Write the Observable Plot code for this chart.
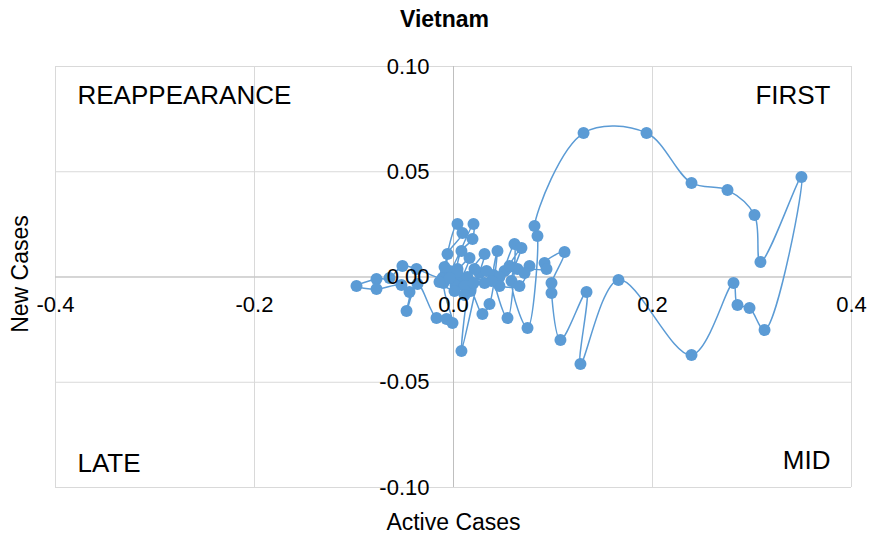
<!DOCTYPE html>
<html><head><meta charset="utf-8">
<script src="https://cdn.jsdelivr.net/npm/d3@7"></script>
<script src="https://cdn.jsdelivr.net/npm/@observablehq/plot@0.6"></script>
<style>body{margin:0;background:#fff;}</style>
</head><body><div id="chart"></div>
<script>
const title = "Vietnam";
const xAxisTitle = "Active Cases";
const yAxisTitle = "New Cases";
const activeCases = [0, -0.007, -0.011, -0.0372, -0.0513, -0.0643, -0.0774, -0.0975, -0.0774, -0.0523,
  -0.0442, -0.0472, -0.0362, -0.0171, -0.007, -0.001, -0.0101, 0.004, 0.009, -0.006,
  -0.004, 0.0201, 0.0191, 0.008, 0.004, 0.0161, 0.008, 0.0312, 0.0261, 0.008,
  0.0171, 0.0291, 0.0362, 0.0442, 0.0402, 0.0543, 0.0613, 0.0513, 0.0683, 0.0583,
  0.0744, 0.0844, 0.0814, 0.1307, 0.194, 0.2392, 0.2754, 0.3025, 0.3085, 0.3497,
  0.3126, 0.2975, 0.2854, 0.2814, 0.2392, 0.1658, 0.1276, 0.1337, 0.1075, 0.0985,
  0.0985, 0.1116, 0.0915, 0.0935, 0.0643, 0.0462, 0.0332, 0.0211, 0.0141, 0.002,
  0.0111, 0.0201, 0.0312, 0.0462, 0.0663, 0.0764, 0.0714, 0.0563, 0.0382, 0.004,
  -0.009, -0.0141, 0.001, 0.0111, -0.004];
const newCases = [0, 0.0024, -0.0005, 0.0038, 0.0052, -0.0005, -0.001, -0.0043, -0.0057, -0.0038,
  -0.0071, -0.0162, -0.0033, -0.0195, -0.02, -0.0219, -0.0029, 0.0252, 0.0209, 0.0109,
  0.0029, 0.0252, 0.0181, 0.0124, 0.0038, 0.009, -0.0019, 0.0109, 0.0019, -0.0352,
  -0.0067, -0.0176, -0.0128, 0.0124, 0.001, -0.0195, 0.0157, 0.0029, 0.0138, -0.0019,
  -0.0242, 0.0195, 0.0242, 0.0684, 0.0684, 0.0447, 0.0413, 0.0295, 0.0071, 0.0475,
  -0.0252, -0.0147, -0.0133, -0.0029, -0.0371, -0.0014, -0.0413, -0.0071, -0.0299, -0.0076,
  -0.0029, 0.0119, 0.0067, 0.0038, 0.0038, 0, 0.0029, 0.0038, 0, -0.0038,
  -0.0043, -0.0029, -0.0029, -0.0043, -0.0043, 0.0052, 0.0019, 0.0052, -0.0019, 0.0024,
  0.0048, -0.0024, -0.0067, -0.0086, -0.0005];
const xTicks = [-0.4, -0.2, 0, 0.2, 0.4];
const xTickLabels = ["-0.4", "-0.2", "0.0", "0.2", "0.4"];
const yTicks = [-0.10, -0.05, 0, 0.05, 0.10];
const yTickLabels = ["-0.10", "-0.05", "0.00", "0.05", "0.10"];
const quadrantLabels = ["REAPPEARANCE", "FIRST", "LATE", "MID"];

const data = activeCases.map((x, i) => ({x, y: newCases[i]}));
const blue = "#5B9BD5";
const grid = "#d9d9d9";

const chart = Plot.plot({
  width: 874, height: 539,
  marginLeft: 55, marginRight: 23, marginTop: 66, marginBottom: 52,
  x: {domain: [-0.4, 0.4], axis: null},
  y: {domain: [-0.1, 0.1], axis: null},
  style: {fontFamily: "'Liberation Sans', Arial, sans-serif", background: "#fff", color: "#000"},
  marks: [
    Plot.ruleX(xTicks, {x: d => d, stroke: grid, strokeWidth: 1, strokeOpacity: 1}),
    Plot.ruleY(yTicks, {y: d => d, stroke: grid, strokeWidth: 1, strokeOpacity: 1}),
    Plot.ruleX([0], {x: d => d, stroke: "#bfbfbf", strokeOpacity: 1}),
    Plot.ruleY([0], {y: d => d, stroke: "#bfbfbf", strokeOpacity: 1}),
    Plot.line(data, {x: "x", y: "y", curve: "catmull-rom", stroke: blue, strokeWidth: 1.5}),
    Plot.dot(data, {x: "x", y: "y", r: 6, fill: blue, stroke: "none"}),
    Plot.text(xTicks, {x: d => d, y: 0, text: (d, i) => xTickLabels[i], dy: 28, fontSize: 22, fill: "#000"}),
    Plot.text(yTicks, {x: 0, y: d => d, text: (d, i) => yTickLabels[i], dx: -24, textAnchor: "end", fontSize: 22, fill: "#000"}),
    Plot.text([quadrantLabels[0]], {text: d => d, frameAnchor: "top-left", textAnchor: "start", lineAnchor: "middle", dx: 22, dy: 29, fontSize: 26, fill: "#000"}),
    Plot.text([quadrantLabels[1]], {text: d => d, frameAnchor: "top-right", textAnchor: "end", lineAnchor: "middle", dx: -21, dy: 29, fontSize: 26, fill: "#000"}),
    Plot.text([quadrantLabels[2]], {text: d => d, frameAnchor: "bottom-left", textAnchor: "start", lineAnchor: "middle", dx: 22, dy: -24, fontSize: 26, fill: "#000"}),
    Plot.text([quadrantLabels[3]], {text: d => d, frameAnchor: "bottom-right", textAnchor: "end", lineAnchor: "middle", dx: -21, dy: -27, fontSize: 26, fill: "#000"}),
    Plot.text([title], {text: d => d, frameAnchor: "top", lineAnchor: "middle", dx: -9, dy: -47, fontSize: 23, fontWeight: "bold", fill: "#000"}),
    Plot.text([xAxisTitle], {text: d => d, frameAnchor: "bottom", lineAnchor: "middle", dy: 35, fontSize: 23, fill: "#000"}),
    Plot.text([yAxisTitle], {text: d => d, frameAnchor: "left", textAnchor: "middle", lineAnchor: "middle", rotate: -90, dx: -35, dy: -3, fontSize: 23, fill: "#000"})
  ]
});
document.getElementById("chart").append(chart);
</script>
</body></html>
